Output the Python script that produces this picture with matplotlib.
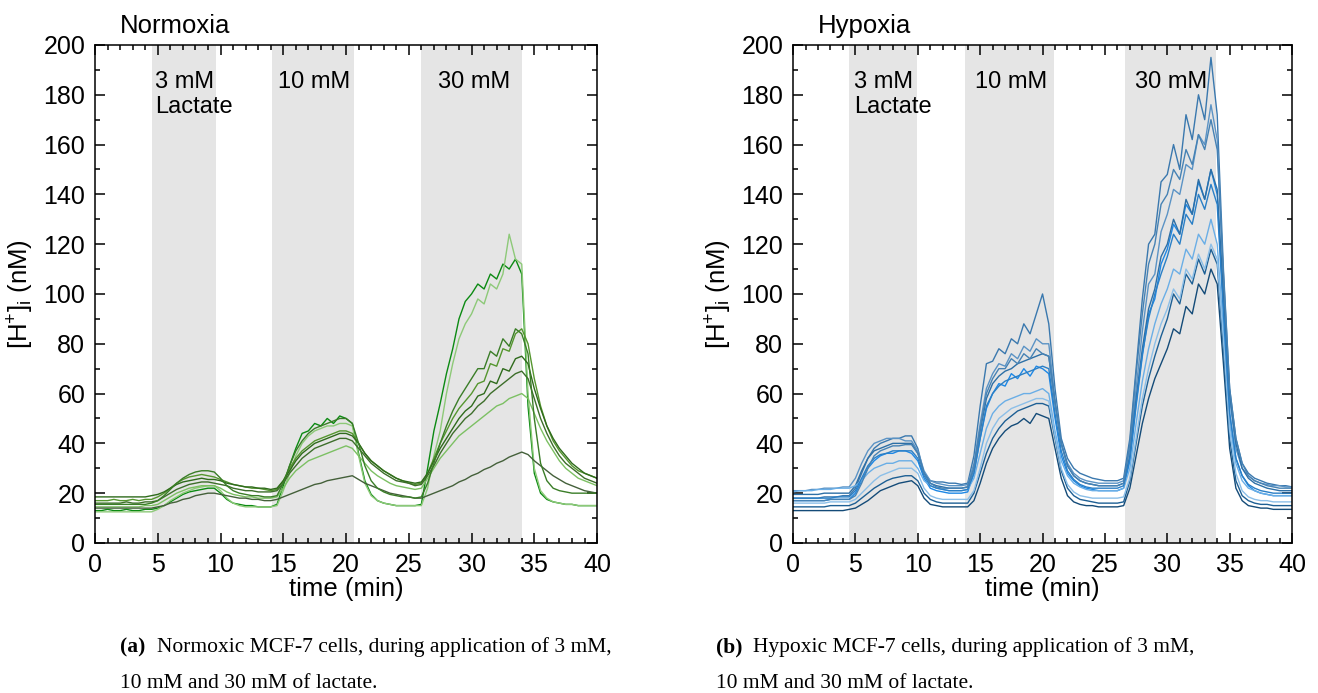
import numpy as np
import matplotlib
matplotlib.use('Agg')
import matplotlib.pyplot as plt

plt.rcParams['font.family'] = ['Liberation Sans', 'DejaVu Sans']
plt.rcParams['mathtext.fontset'] = 'custom'
plt.rcParams['mathtext.rm'] = 'Liberation Sans'
plt.rcParams['mathtext.it'] = 'Liberation Sans'

# sample times (min), one value every 0.5 min
t = np.arange(0, 40.5, 0.5)

# lactate application windows (min)
norm_windows = [(4.5, 9.6), (14.1, 20.6), (26.0, 34.0)]
hyp_windows = [(4.5, 9.9), (13.8, 20.9), (26.6, 33.9)]
window_labels = ['3 mM\nLactate', '10 mM', '30 mM']
norm_label_x = [4.8, 14.6, 27.3]
hyp_label_x = [4.9, 14.6, 27.4]

# ---- normoxia traces, [H+]i in nM ----
n1 = [13, 13, 13.5, 13, 13, 13.5, 13, 13, 13.5, 13.5,
      14, 15, 16.5, 18, 19.5, 20.5, 21, 21.5, 22, 22,
      20, 17.5, 16, 15.5, 15, 15, 14.5, 14.5, 14.5, 15.5,
      23, 31, 38, 44, 45, 48, 47, 50, 48, 51,
      50, 48, 36, 25, 19.5, 17, 16, 15.5, 15, 15,
      15, 15, 15.5, 30, 45, 56, 68, 78, 90, 97,
      100, 104, 102, 108, 106, 112, 110, 114, 108, 55,
      28, 20, 17.5, 16.5, 16, 15.5, 15.5, 15, 15, 15, 15]
n2 = [12.5, 12.5, 12.5, 12.5, 12.5, 12.5, 12.5, 12.5, 12.5, 12.5,
      13.5, 15, 17, 18.5, 20, 21, 22, 22.5, 23, 23,
      21, 18, 16, 15, 14.5, 14.5, 14.5, 14.5, 14.5, 15,
      21, 28, 35, 40, 43, 45, 46, 47, 47, 48,
      48, 47, 35, 24, 19, 17, 16, 15.5, 15, 15,
      15, 15, 15, 22, 35, 45, 60, 72, 82, 88,
      92, 98, 96, 104, 102, 108, 124, 114, 112, 60,
      30, 21, 18, 16.5, 16, 15.5, 15.5, 15, 15, 15, 15]
n3 = [17, 17, 17, 17.5, 17, 17, 17.5, 17, 17.5, 17.5,
      18.5, 20, 22, 24, 25.5, 26.5, 27, 27.5, 27, 26.5,
      25.5, 24.5, 23.5, 23, 22.5, 22, 22, 21.5, 21, 21.5,
      25, 30, 34, 37, 39, 41, 42, 43, 44, 45,
      45, 44, 40, 36, 33, 31, 29, 27.5, 26, 25,
      24, 23.5, 24, 28, 34, 40, 45, 50, 54, 57,
      60, 64, 65, 72, 71, 78, 77, 84, 86, 80,
      66, 55, 47, 41, 37, 34, 31, 29, 28, 27, 26]
n4 = [18.5, 18.5, 18.5, 18.5, 18.5, 18.5, 18.5, 18.5, 18.5, 19,
      19.5, 20.5, 22, 23.5, 24.5, 25, 25.5, 26, 25.5, 25.5,
      25, 24, 23.5, 23, 22.5, 22.5, 22, 22, 21.5, 22,
      25, 29, 33, 36, 38, 40, 41, 42, 43, 44,
      44, 43, 40, 36, 33, 31, 29, 27.5, 26, 25,
      24.5, 24, 24.5, 28, 33, 38, 42, 46, 50, 53,
      55, 59, 60, 65, 64, 70, 69, 74, 75, 72,
      62, 54, 47, 42, 38, 35, 32, 30, 28, 27, 26]
n5 = [16, 16, 16, 16, 16, 16.5, 16, 16, 16.5, 16.5,
      17, 18.5, 20, 21.5, 22.5, 23.5, 24, 24.5, 24.5, 24,
      23.5, 23, 22, 21.5, 21, 21, 20.5, 20.5, 20.5, 21,
      24, 28, 31, 34, 36, 38, 39, 40, 41, 42,
      42, 41, 38, 35, 32, 30, 28, 26.5, 25, 24.5,
      24, 23, 23.5, 27, 31, 36, 40, 44, 47, 50,
      52, 55, 57, 60, 62, 64, 66, 68, 69, 66,
      58, 50, 44, 39, 35, 32, 30, 28, 26, 25, 24]
n6 = [14.5, 14.5, 14.5, 14.5, 14.5, 14.5, 14.5, 14.5, 15, 15,
      15.5, 17, 18.5, 20, 21, 22, 22.5, 23, 23, 23,
      22, 20.5, 19.5, 19, 18.5, 18.5, 18, 18, 18, 18.5,
      22, 26, 29, 31, 33, 34, 35, 36, 37, 38,
      39, 38, 35, 32, 29, 27, 25.5, 24, 23, 22.5,
      22, 21.5, 22, 26, 30, 34, 37, 40, 43, 45,
      47, 49, 51, 53, 55, 56, 58, 59, 60, 58,
      52, 46, 41, 37, 33, 30, 28, 26, 25, 24, 23]
n7 = [14, 14, 14, 14, 14, 14, 14, 14, 14, 14,
      14.5, 15, 16, 16.5, 17.5, 18, 19, 19.5, 20, 20,
      19.5, 19, 18.5, 18, 18, 17.5, 17.5, 17, 17, 17.5,
      18.5, 19.5, 20.5, 21.5, 22.5, 23.5, 24, 25, 25.5, 26,
      26.5, 27, 25.5, 24, 23, 22, 21, 20, 19.5, 19,
      18.5, 18, 18, 19, 20, 21, 22, 23, 24.5, 25.5,
      27, 28, 29.5, 30.5, 32, 33, 34.5, 35.5, 36.5, 35.5,
      33, 31, 29, 27, 25.5, 24, 23, 22, 21, 20.5, 20]
n8 = [15.5, 15.5, 15.5, 15.5, 15.5, 15.5, 15.5, 15.5, 15.5, 16,
      17, 19, 21.5, 24, 26, 27.5, 28.5, 29, 29, 28.5,
      26, 23, 21, 20, 19.5, 19, 19, 18.5, 18.5, 19,
      24, 31, 37, 41, 44, 46, 47, 48, 49, 50,
      50, 48, 40, 31, 25, 22, 20.5, 19.5, 19, 18.5,
      18.5, 18, 18.5, 24, 32, 40, 47, 53, 58, 62,
      66, 70, 70, 77, 75, 82, 79, 86, 84, 76,
      50, 32, 25, 22, 21, 20.5, 20, 20, 20, 20, 20]
norm_traces = [n1, n2, n3, n4, n5, n6, n7, n8]
norm_colors = ['#0b8a12', '#8dc978', '#55962f', '#2f6b1c', '#3d6e2a',
               '#7cc063', '#44603a', '#3a7d27']

# ---- hypoxia traces, [H+]i in nM ----
h1 = [18, 18, 18, 18, 18, 18.5, 18.5, 18.5, 19, 19,
      22, 28, 34, 38, 40, 41, 42, 42, 43, 43,
      38, 28, 25, 24.5, 24.5, 24, 24, 23.5, 24, 35,
      55, 72, 73, 78, 76, 82, 80, 88, 84, 92,
      100, 88, 62, 42, 34, 30, 28, 27, 26, 25.5,
      25, 25, 25, 26, 42, 70, 98, 120, 124, 145,
      148, 160, 150, 172, 162, 180, 170, 195, 172, 110,
      62, 42, 32, 28, 26, 25, 24, 23.5, 23, 23, 22.5]
h2 = [21, 21, 21, 21.5, 21.5, 22, 22, 22, 22.5, 22.5,
      26, 32, 37, 40, 41, 42, 42, 42, 41, 41,
      37, 29, 25, 24, 23.5, 23, 23, 23, 23.5, 32,
      48, 62, 68, 72, 71, 76, 74, 79, 77, 82,
      80, 80, 58, 40, 32, 28, 26, 25, 24.5, 24,
      24, 24, 24, 25, 38, 62, 85, 104, 108, 125,
      132, 142, 140, 152, 150, 164, 160, 176, 162, 105,
      58, 38, 30, 27, 25, 24, 23.5, 23, 23, 22.5, 22.5]
h3 = [17, 17, 17, 17, 17, 17, 17.5, 17.5, 17.5, 17.5,
      20, 25, 30, 33, 35, 36, 36, 37, 37, 36,
      33, 26, 22, 21, 20.5, 20, 20, 20, 20.5, 28,
      42, 54, 60, 64, 63, 68, 66, 70, 67, 71,
      70, 68, 50, 35, 28, 25, 23, 22, 21.5, 21,
      21, 21, 21, 22, 33, 55, 75, 92, 98, 112,
      118, 128, 124, 136, 132, 145, 138, 150, 140, 95,
      52, 34, 27, 23, 21, 20, 19.5, 19, 19, 19, 19]
h4 = [19.5, 19.5, 19.5, 19.5, 19.5, 20, 20, 20, 20, 20,
      23, 29, 34, 37, 38, 39, 40, 40, 40, 40,
      36, 28, 24, 23, 22.5, 22, 22, 22, 22.5, 30,
      45, 58, 64, 67, 69, 70, 72, 73, 74, 75,
      76, 75, 56, 40, 31, 27, 25, 24, 23.5, 23,
      23, 23, 23, 24, 35, 58, 78, 94, 102, 115,
      120, 130, 124, 138, 132, 146, 138, 150, 142, 100,
      60, 40, 30, 26, 24, 23, 22, 21.5, 21, 21, 21]
h5 = [20.5, 21, 21, 21, 21.5, 21.5, 21.5, 22, 22, 22,
      23, 25, 28, 30, 31, 32, 32, 33, 33, 33,
      30, 25, 23, 22, 21.5, 21, 21, 21, 21.5, 26,
      36, 46, 52, 55, 57, 58, 59, 60, 60, 61,
      62, 60, 45, 33, 27, 24, 22.5, 21.5, 21, 21,
      21, 21, 21, 22, 30, 48, 65, 78, 88, 96,
      102, 110, 108, 118, 114, 124, 120, 130, 120, 85,
      48, 32, 25, 22, 21, 20, 19.5, 19, 19, 19, 19]
h6 = [13, 13, 13, 13, 13, 13, 13, 13, 13, 13.5,
      14, 15.5, 17, 19, 21, 22, 23, 24, 24.5, 25,
      23, 18, 15.5, 15, 14.5, 14.5, 14.5, 14.5, 14.5, 17,
      24, 32, 38, 42, 45, 47, 48, 50, 48, 52,
      51, 50, 38, 26, 19, 16.5, 15.5, 15, 15, 14.5,
      14.5, 14.5, 14.5, 15, 22, 35, 48, 58, 66, 72,
      78, 86, 84, 95, 92, 104, 100, 110, 104, 72,
      38, 22, 17, 15, 14.5, 14, 14, 13.5, 13.5, 13.5, 13.5]
h7 = [14.5, 14.5, 14.5, 14.5, 14.5, 14.5, 15, 15, 15, 15,
      16, 18, 20, 22, 23.5, 25, 26, 26.5, 27, 27,
      25, 20, 17.5, 16.5, 16, 16, 16, 16, 16, 20,
      28, 36, 42, 46, 49, 51, 53, 54, 55, 56,
      56, 55, 42, 29, 22, 19, 17.5, 17, 16.5, 16,
      16, 16, 16, 16.5, 25, 40, 55, 66, 75, 83,
      90, 100, 96, 108, 104, 114, 108, 118, 112, 78,
      42, 25, 19, 17, 16, 15.5, 15.5, 15, 15, 15, 15]
h8 = [16, 16, 16, 16, 16, 16, 16.5, 16.5, 16.5, 16.5,
      17.5, 20, 22.5, 25, 27, 28, 29, 30, 30, 30,
      28, 22, 19, 18, 17.5, 17.5, 17.5, 17.5, 17.5, 21,
      30, 40, 46, 50, 52, 54, 55, 56, 57, 58,
      58, 57, 43, 30, 23.5, 20.5, 19, 18.5, 18, 18,
      18, 18, 18, 18.5, 26, 42, 58, 70, 80, 88,
      94, 102, 98, 110, 106, 116, 110, 120, 114, 82,
      45, 28, 21, 18.5, 17.5, 17, 17, 16.5, 16.5, 16.5, 16.5]
h9 = [18, 18, 18, 18, 18, 18, 18, 18.5, 18.5, 18.5,
      21, 26, 31, 34, 35.5, 36, 37, 37, 37, 37,
      34, 27, 23, 22, 21.5, 21, 21, 21, 21.5, 28,
      42, 55, 60, 63, 65, 66, 67, 68, 69, 70,
      71, 70, 52, 37, 29, 25.5, 23.5, 22.5, 22, 22,
      22, 22, 22, 23, 34, 56, 76, 90, 100, 108,
      115, 124, 120, 132, 128, 140, 134, 144, 136, 92,
      52, 34, 27, 23.5, 22, 21, 20.5, 20, 20, 20, 20]
h10 = [17, 17, 17, 17, 17, 17, 17.5, 17.5, 17.5, 17.5,
       19, 24, 30, 35, 37, 38, 39, 39, 39.5, 39.5,
       36, 28, 24, 22.5, 22, 22, 22, 22, 22.5, 30,
       46, 60, 66, 70, 70, 74, 72, 76, 74, 78,
       76, 75, 56, 40, 31, 27, 25, 24, 23.5, 23,
       23, 23, 23, 24, 40, 68, 92, 112, 120, 136,
       140, 150, 146, 158, 152, 164, 158, 170, 158, 108,
       62, 42, 32, 27, 25, 24, 23, 22.5, 22, 22, 22]
hyp_traces = [h1, h2, h3, h4, h5, h6, h7, h8, h9, h10]
hyp_colors = ['#3a78ae', '#5b93c5', '#1e88e5', '#2d6fa6', '#6aaee6',
              '#144b78', '#1d5f94', '#8cbfe8', '#2a7fc6', '#4682b4']

fig = plt.figure(figsize=(13.18, 6.93), dpi=100)
ax1 = fig.add_axes([0.0721, 0.2165, 0.3809, 0.7186])
ax2 = fig.add_axes([0.6017, 0.2165, 0.3786, 0.7186])


def draw_panel(ax, windows, label_x, traces, colors, title):
    for (a, b) in windows:
        ax.axvspan(a, b, color='#e5e5e5', lw=0, zorder=0)
    for y, c in zip(traces, colors):
        ax.plot(t, y, color=c, lw=1.0, zorder=2)
    for x, s in zip(label_x, window_labels):
        ax.text(x, 189.5, s, fontsize=17, va='top', ha='left',
                linespacing=1.15, zorder=3)
    ax.text(2.0, 205, title, fontsize=18.5, ha='left', va='baseline',
            clip_on=False)
    ax.set_xlim(0, 40)
    ax.set_ylim(0, 200)
    ax.set_xticks(range(0, 41, 5))
    ax.set_xticks(range(0, 41, 1), minor=True)
    ax.set_yticks(range(0, 201, 20))
    ax.set_yticks(range(0, 201, 10), minor=True)
    ax.tick_params(which='both', direction='in', top=True, right=True,
                   labelsize=18, width=1.1)
    ax.tick_params(which='major', length=7, pad=7)
    ax.tick_params(which='minor', length=3.5)
    for sp in ax.spines.values():
        sp.set_linewidth(1.1)
    ax.set_xlabel('time (min)', fontsize=18.5, labelpad=0)
    ax.set_ylabel(r'[H$^{+}$]$_{\mathrm{i}}$ (nM)', fontsize=18.5, labelpad=5)


draw_panel(ax1, norm_windows, norm_label_x, norm_traces, norm_colors, 'Normoxia')
draw_panel(ax2, hyp_windows, hyp_label_x, hyp_traces, hyp_colors, 'Hypoxia')

# captions below the panels
serif = ['Liberation Serif', 'DejaVu Serif']
captions = [('(a)', 'Normoxic MCF-7 cells, during application of 3 mM,', 120 / 1318),
            ('(b)', 'Hypoxic MCF-7 cells, during application of 3 mM,', 716 / 1318)]
for tag, line1, x0 in captions:
    fig.text(x0, 1 - 652 / 693, tag, family=serif, fontweight='bold',
             fontsize=15.5, va='baseline')
    fig.text(x0 + 37 / 1318, 1 - 652 / 693, line1, family=serif,
             fontsize=15.5, va='baseline')
    fig.text(x0, 1 - 688 / 693, '10 mM and 30 mM of lactate.', family=serif,
             fontsize=15.5, va='baseline')

fig.savefig('out.png', dpi=100)
